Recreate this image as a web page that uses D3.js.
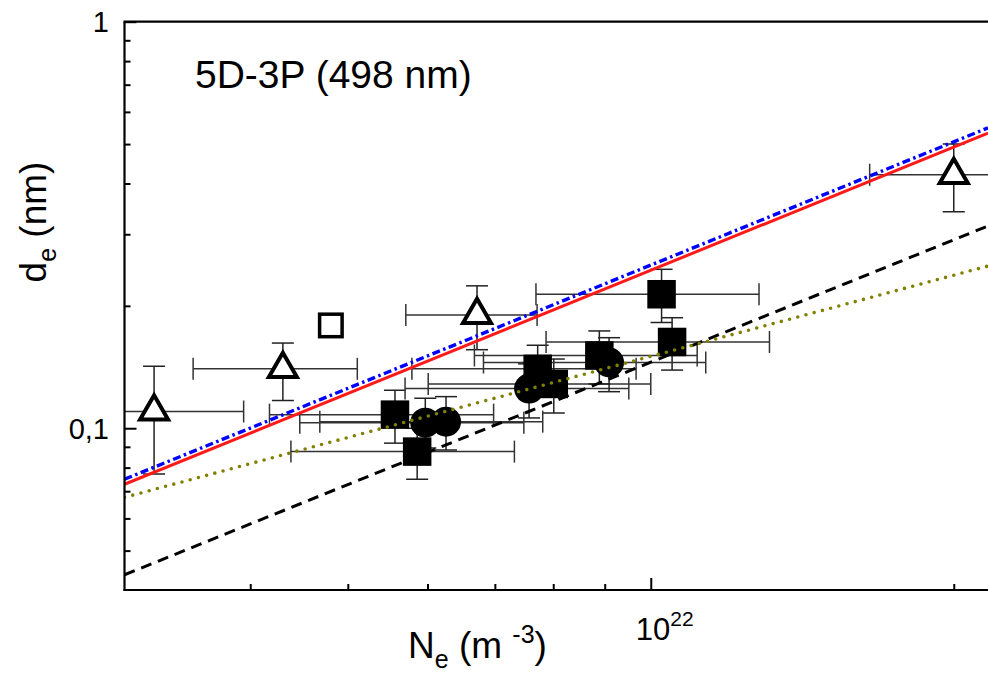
<!DOCTYPE html>
<html><head><meta charset="utf-8">
<script src="https://cdn.jsdelivr.net/npm/d3@7"></script>
<style>html,body{margin:0;padding:0;background:#fff;overflow:hidden}svg{display:block;font-family:"Liberation Sans",Arial,sans-serif}</style>
</head><body><svg id="c" width="988" height="677"></svg>
<script>
// ---- data ----
const xDomain = [3e21, 2.163e22];
const yDomain = [0.04, 1];
const xMinorTicks = [4e21, 5e21, 6e21, 7e21, 8e21, 9e21, 2e22];
const xMajorTicks = [1e22];
const yMinorTicks = [0.05, 0.06, 0.07, 0.08, 0.09, 0.2, 0.3, 0.4, 0.5, 0.6, 0.7, 0.8, 0.9];
const yMajorTicks = [0.1, 1];
const yTickLabels = ["0,1", "1"];

const triN = [3.21e21, 4.31e21, 6.72e21, 2.00e22];
const triD = [0.110, 0.140, 0.190, 0.420];
const triNlo = [2.9e21, 3.51e21, 5.71e21, 1.65e22];
const triNhi = [3.94e21, 5.11e21, 7.71e21, 2.5e22];
const triDlo = [0.0772, 0.117, 0.156, 0.341];
const triDhi = [0.142, 0.162, 0.224, 0.500];

const openSqN = [4.81e21];
const openSqD = [0.179];

const sqN = [5.57e21, 5.86e21, 7.72e21, 8.01e21, 8.89e21, 1.025e22, 1.05e22];
const sqD = [0.108, 0.0876, 0.140, 0.1285, 0.151, 0.2136, 0.163];
const sqNlo = [4.18e21, 4.39e21, 5.79e21, 6.01e21, 6.68e21, 7.69e21, 7.87e21];
const sqNhi = [6.98e21, 7.32e21, 9.67e21, 1.0e22, 1.112e22, 1.281e22, 1.312e22];
const sqDlo = [0.0919, 0.0749, 0.120, 0.109, 0.1285, 0.182, 0.139];
const sqDhi = [0.124, 0.100, 0.160, 0.148, 0.1735, 0.246, 0.187];

const circN = [5.97e21, 6.26e21, 7.57e21, 9.09e21];
const circD = [0.1032, 0.1038, 0.1252, 0.1451];
const circNlo = [4.48e21, 4.69e21, 5.70e21, 6.82e21];
const circNhi = [7.48e21, 7.81e21, 9.51e21, 1.134e22];
const circDlo = [0.0894, 0.0884, 0.106, 0.123];
const circDhi = [0.1185, 0.1196, 0.144, 0.167];

const lineN = [3e21, 2.163e22];
const redD = [0.0728, 0.532];
const blueD = [0.0749, 0.548];
const oliveD = [0.0676, 0.2506];
const blackD = [0.0436, 0.3144];

// ---- drawing ----
const svg = d3.select("#c");
const L = 124.5, R = 988, T = 21.7, B = 590;
const x = d3.scaleLog().domain(xDomain).range([L, R]);
const y = d3.scaleLog().domain(yDomain).range([B, T]);

svg.append("defs").append("clipPath").attr("id", "clip")
  .append("rect").attr("x", L).attr("y", T).attr("width", R - L).attr("height", B - T);

const plot = svg.append("g").attr("clip-path", "url(#clip)");

function errBars(N, D, Nlo, Nhi, Dlo, Dhi) {
  const g = plot.append("g").attr("stroke", "#222").attr("stroke-width", 1.5).attr("fill", "none");
  const cap = 11;
  N.forEach((n, i) => {
    const cx = x(n), cy = y(D[i]);
    if (Nlo) {
      const x0 = x(Nlo[i]), x1 = x(Nhi[i]);
      g.append("line").attr("x1", x0).attr("x2", x1).attr("y1", cy).attr("y2", cy).attr("stroke", "#333");
      g.append("line").attr("x1", x0).attr("x2", x0).attr("y1", cy - cap).attr("y2", cy + cap).attr("stroke", "#333");
      g.append("line").attr("x1", x1).attr("x2", x1).attr("y1", cy - cap).attr("y2", cy + cap).attr("stroke", "#333");
    }
    if (Dlo) {
      const y0 = y(Dlo[i]), y1 = y(Dhi[i]);
      g.append("line").attr("x1", cx).attr("x2", cx).attr("y1", y0).attr("y2", y1);
      g.append("line").attr("x1", cx - cap).attr("x2", cx + cap).attr("y1", y0).attr("y2", y0);
      g.append("line").attr("x1", cx - cap).attr("x2", cx + cap).attr("y1", y1).attr("y2", y1);
    }
  });
}
errBars(triN, triD, triNlo, triNhi, triDlo, triDhi);
errBars(sqN, sqD, sqNlo, sqNhi, sqDlo, sqDhi);
errBars(circN, circD, circNlo, circNhi, circDlo, circDhi);

// markers
const triS = 28, triH = triS * Math.sqrt(3) / 2;
const triPath = `M0,${-triH * 2 / 3}L${triS / 2},${triH / 3}L${-triS / 2},${triH / 3}Z`;
plot.append("g").selectAll("path").data(triN).join("path")
  .attr("d", triPath).attr("transform", (d, i) => `translate(${x(d)},${y(triD[i])})`)
  .attr("fill", "#fff").attr("stroke", "#000").attr("stroke-width", 4).attr("stroke-linejoin", "miter");

plot.append("g").selectAll("rect").data(openSqN).join("rect")
  .attr("x", d => x(d) - 11.25).attr("y", (d, i) => y(openSqD[i]) - 11.25)
  .attr("width", 22.5).attr("height", 22.5)
  .attr("fill", "#fff").attr("stroke", "#000").attr("stroke-width", 3.5);

plot.append("g").selectAll("rect").data(sqN).join("rect")
  .attr("x", d => x(d) - 14.25).attr("y", (d, i) => y(sqD[i]) - 14.25)
  .attr("width", 28.5).attr("height", 28.5).attr("fill", "#000");

plot.append("g").selectAll("circle").data(circN).join("circle")
  .attr("cx", d => x(d)).attr("cy", (d, i) => y(circD[i])).attr("r", 15).attr("fill", "#000");

// fit lines
const lineGen = d3.line().x(d => x(d[0])).y(d => y(d[1]));
function fit(D, color, w, dash, cap) {
  plot.append("path").datum(lineN.map((n, i) => [n, D[i]])).attr("d", lineGen)
    .attr("fill", "none").attr("stroke", color).attr("stroke-width", w)
    .attr("stroke-dasharray", dash).attr("stroke-linecap", cap || "butt");
}
fit(blackD, "#000", 3, "11,7");
fit(oliveD, "#808000", 3.6, "0,8.5", "round");
fit(redD, "#ff1a1a", 3, null);
fit(blueD, "#0000ff", 3.4, "8,3.5,2.5,3.5");

// axes
function styleAxis(g) {
  g.select(".domain").remove();
  g.selectAll("line").attr("stroke", "#000").attr("stroke-width", 2);
  g.selectAll("text").remove();
}
svg.append("g").attr("transform", `translate(0,${B})`)
  .call(d3.axisBottom(x).tickValues(xMinorTicks).tickSize(-6).tickFormat("")).call(styleAxis);
svg.append("g").attr("transform", `translate(0,${B})`)
  .call(d3.axisBottom(x).tickValues(xMajorTicks).tickSize(-12).tickFormat("")).call(styleAxis);
svg.append("g").attr("transform", `translate(${L},0)`)
  .call(d3.axisLeft(y).tickValues(yMinorTicks).tickSize(-6).tickFormat("")).call(styleAxis);
svg.append("g").attr("transform", `translate(${L},0)`)
  .call(d3.axisLeft(y).tickValues(yMajorTicks).tickSize(-12).tickFormat("")).call(styleAxis);

// frame lines
svg.append("line").attr("x1", L).attr("x2", L).attr("y1", T).attr("y2", B + 1).attr("stroke", "#000").attr("stroke-width", 2.2);
svg.append("line").attr("x1", L - 1).attr("x2", R).attr("y1", B).attr("y2", B).attr("stroke", "#000").attr("stroke-width", 2.2);
svg.append("line").attr("x1", L - 1).attr("x2", R).attr("y1", T).attr("y2", T).attr("stroke", "#000").attr("stroke-width", 2.2);

// tick labels
svg.append("g").selectAll("text").data(yMajorTicks).join("text")
  .attr("x", 109).attr("y", d => y(d) + 10.5).attr("text-anchor", "end")
  .attr("font-size", 29).attr("fill", "#000").text((d, i) => yTickLabels[i]);

const xl = svg.append("text").attr("x", x(xMajorTicks[0]) - 15).attr("y", 640).attr("font-size", 31).attr("fill", "#000");
xl.append("tspan").text("10");
xl.append("tspan").attr("font-size", 21).attr("dy", -14).text("22");

// axis titles
const xt = svg.append("text").attr("x", 408).attr("y", 658).attr("font-size", 37).attr("fill", "#000");
xt.append("tspan").text("N");
xt.append("tspan").attr("font-size", 25).attr("dy", 10).text("e");
xt.append("tspan").attr("dy", -10).text(" (m ");
xt.append("tspan").attr("font-size", 25).attr("dy", -15).text("-3");
xt.append("tspan").attr("dy", 15).text(")");

const yt = svg.append("text").attr("transform", "translate(46,222) rotate(-90)")
  .attr("text-anchor", "middle").attr("font-size", 37).attr("fill", "#000");
yt.append("tspan").text("d");
yt.append("tspan").attr("font-size", 25).attr("dy", 10).text("e");
yt.append("tspan").attr("dy", -10).text(" (nm)");

svg.append("text").attr("x", 195).attr("y", 88).attr("font-size", 39).attr("fill", "#000").text("5D-3P (498 nm)");
</script></body></html>
